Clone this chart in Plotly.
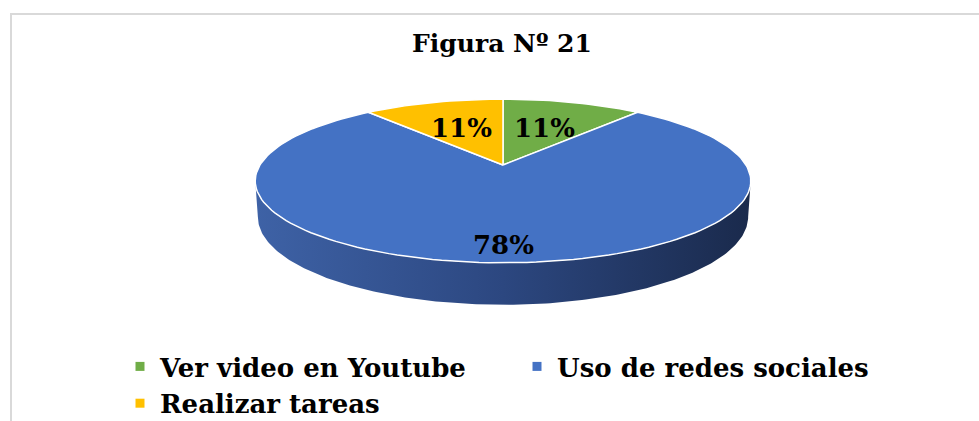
import numpy as np
import plotly.graph_objects as go

# ---- data ----
categories = ["Ver video en Youtube", "Uso de redes sociales", "Realizar tareas"]
percent_values = [11, 78, 11]
slice_colors = ["#70ad47", "#4472c4", "#ffc000"]
title_text = "Figura Nº 21"

# ---- 3D pie geometry (pixel space) ----
W, H = 979, 421
CX, CY = 503, 165          # projected pie centre
S = 243                    # radius scale (px)
ALPHA = np.radians(18.9)   # tilt
F = 4.84                   # perspective distance
DEPTH = 0.153              # thickness relative to radius


def proj(theta, Y=0.0, r=1.0):
    X = r * np.sin(theta)
    Z = r * np.cos(theta)
    ys = Z * np.sin(ALPHA) + Y * np.cos(ALPHA)
    D = Z * np.cos(ALPHA) - Y * np.sin(ALPHA)
    k = F / (F + D)
    return CX + S * X * k, CY - S * ys * k


fig = go.Figure()

# side (front rim) with horizontal gradient
t_side = np.radians(np.linspace(101, 259, 200))
xt, yt = proj(t_side, 0.0)
xb, yb = proj(t_side[::-1], -DEPTH)
fig.add_trace(go.Scatter(
    x=np.concatenate([xt, xb]), y=np.concatenate([yt, yb]),
    mode="lines", fill="toself", line=dict(width=0),
    fillgradient=dict(type="horizontal",
                      colorscale=[[0, "#3e62a6"], [0.5, "#2c4780"], [1, "#1a2a4c"]]),
    hoverinfo="skip", showlegend=False))

# top face wedges
total = sum(percent_values)
start = 0.0
label_pos = []
for name, val, col in zip(categories, percent_values, slice_colors):
    a0 = start
    a1 = start + 2 * np.pi * val / total
    t = np.linspace(a0, a1, max(int(200 * val / total), 20))
    bx, by = proj(t, 0.0)
    fig.add_trace(go.Scatter(
        x=np.concatenate([[CX], bx, [CX]]), y=np.concatenate([[CY], by, [CY]]),
        mode="lines", fill="toself", fillcolor=col,
        line=dict(color="white", width=1.5),
        hoverinfo="skip", showlegend=False))
    mid = (a0 + a1) / 2
    r_lab = 0.85 if val / total > 0.5 else 0.55
    lx, ly = proj(mid, 0.0, r_lab)
    label_pos.append((lx, ly, f"{val}%"))
    start = a1

for lx, ly, txt in label_pos:
    fig.add_annotation(x=lx, y=ly, text=txt, showarrow=False,
                       font=dict(family="DejaVu Serif", size=26, color="black", weight="bold"),
                       xanchor="center", yanchor="middle")

# legend-only traces
for name, col in zip(categories, slice_colors):
    fig.add_trace(go.Scatter(x=[None], y=[None], mode="markers", name=name,
                             marker=dict(symbol="square", size=9, color=col)))

# frame lines
fig.add_shape(type="line", x0=10, x1=W, y0=14, y1=14, line=dict(color="#d9d9d9", width=2))
fig.add_shape(type="line", x0=11, x1=11, y0=14, y1=H, line=dict(color="#d9d9d9", width=2))

fig.update_layout(
    width=W, height=H,
    margin=dict(l=0, r=0, t=0, b=0, autoexpand=False),
    paper_bgcolor="white", plot_bgcolor="white",
    xaxis=dict(range=[0, W], visible=False, fixedrange=True),
    yaxis=dict(range=[H, 0], visible=False, fixedrange=True),
    title=dict(text=title_text, x=502 / W, xanchor="center", y=1 - 43 / H, yanchor="middle",
               font=dict(family="DejaVu Serif", size=25, color="black", weight="bold")),
    showlegend=True,
    legend=dict(orientation="h", x=120 / W, xanchor="left",
                y=1 - 343 / H, yanchor="top",
                entrywidth=352, entrywidthmode="pixels",
                font=dict(family="DejaVu Serif", size=26, color="black", weight="bold"),
                bgcolor="rgba(0,0,0,0)", itemclick=False, itemdoubleclick=False),
)

fig.write_html("out.html", config={"displayModeBar": False},
               post_script="document.body.style.margin='0';document.body.style.padding='0';")
